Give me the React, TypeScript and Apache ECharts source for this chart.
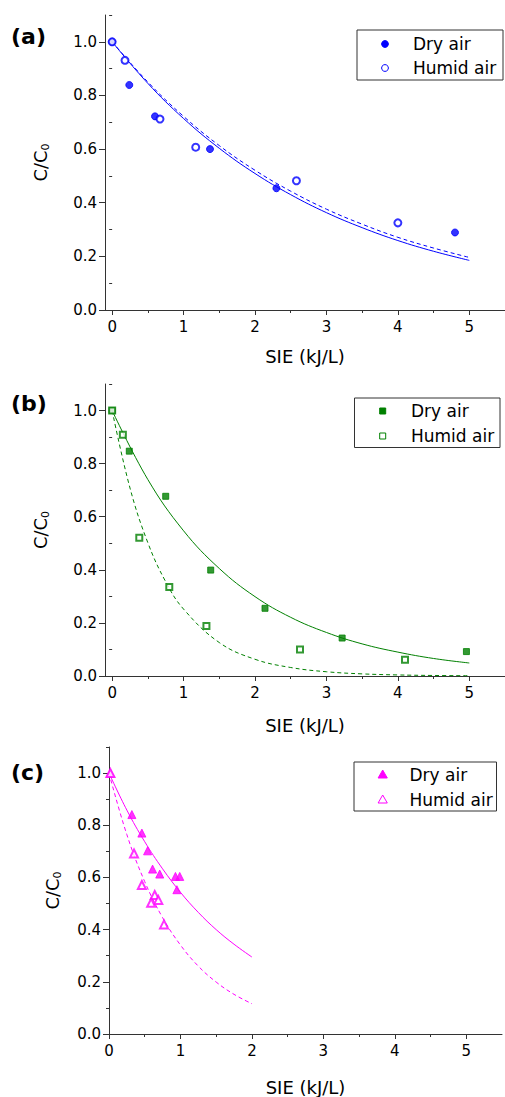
import React, { useEffect, useRef } from "react";
import * as echarts from "echarts";

// ---- tick labels ----
const xTicks = [0, 1, 2, 3, 4, 5];
const xMinorTicks = [0.5, 1.5, 2.5, 3.5, 4.5];
const yTicks = [0, 0.2, 0.4, 0.6, 0.8, 1.0];
const yMinorTicks = [0.1, 0.3, 0.5, 0.7, 0.9, 1.1];
const legendLabels = ["Dry air", "Humid air"];
const panelLabels = ["(a)", "(b)", "(c)"];

// ---- panel (a) ----
const aDryX = [0, 0.24, 0.6, 1.37, 2.3, 4.8];
const aDryY = [1.0, 0.839, 0.722, 0.6, 0.454, 0.289];
const aHumidX = [0, 0.18, 0.67, 1.17, 2.58, 4.0];
const aHumidY = [1.0, 0.931, 0.712, 0.607, 0.482, 0.325];
const aFitX = [0, 0.5, 1, 1.5, 2, 2.5, 3, 3.5, 4, 4.5, 5];
const aDryFit = [1, 0.845, 0.714, 0.603, 0.509, 0.43, 0.363, 0.307, 0.259, 0.219, 0.185];
const aHumidFit = [1, 0.85, 0.722, 0.613, 0.521, 0.443, 0.376, 0.32, 0.271, 0.231, 0.196];

// ---- panel (b) ----
const bDryX = [0, 0.24, 0.75, 1.38, 2.14, 3.22, 4.96];
const bDryY = [1.0, 0.847, 0.677, 0.399, 0.255, 0.143, 0.092];
const bHumidX = [0, 0.15, 0.38, 0.8, 1.32, 2.63, 4.1];
const bHumidY = [1.0, 0.909, 0.521, 0.335, 0.188, 0.1, 0.061];
const bDryFitX = [0, 0.5, 1, 1.5, 2, 2.5, 3, 3.5, 4, 4.5, 5];
const bDryFit = [1, 0.74, 0.547, 0.405, 0.299, 0.221, 0.164, 0.121, 0.09, 0.066, 0.049];
const bHumidFitX = [0, 0.25, 0.5, 0.75, 1, 1.5, 2, 2.5, 3, 3.5, 4, 4.5, 5];
const bHumidFit = [1, 0.708, 0.502, 0.355, 0.252, 0.126, 0.063, 0.032, 0.016, 0.008, 0.004, 0.002, 0.001];

// ---- panel (c) ----
const cDryX = [0.02, 0.32, 0.46, 0.54, 0.61, 0.71, 0.93, 0.99, 0.95];
const cDryY = [1.0, 0.841, 0.77, 0.702, 0.632, 0.613, 0.604, 0.604, 0.553];
const cHumidX = [0.02, 0.35, 0.46, 0.64, 0.69, 0.59, 0.77];
const cHumidY = [1.0, 0.692, 0.571, 0.533, 0.514, 0.503, 0.42];
const cFitX = [0, 0.25, 0.5, 0.75, 1, 1.25, 1.5, 1.75, 2];
const cDryFit = [1, 0.858, 0.737, 0.633, 0.543, 0.466, 0.4, 0.344, 0.295];
const cHumidFit = [1, 0.764, 0.584, 0.446, 0.341, 0.26, 0.199, 0.152, 0.116];

const FONT = "DejaVu Sans";
const AXIS_COLOR = "#333";
const BLUE = "#0000ff";
const GREEN = "#008000";
const MAGENTA = "#ff00ff";

const zip = (xs: number[], ys: number[]) => xs.map((x, i) => [x, ys[i]]);

export default function App() {
  const ref = useRef<HTMLDivElement>(null);

  useEffect(() => {
    if (!ref.current) return;
    const chart = echarts.init(ref.current, null, { renderer: "svg" });

    const grids = [
      { left: 105, top: 15, width: 400, height: 295 },
      { left: 105, top: 384, width: 400, height: 292 },
      { left: 109, top: 747, width: 393, height: 289 },
    ];
    const xMins = [-0.1, -0.1, 0];
    const xNameGaps = [37, 40, 44];
    const yNameGaps = [54, 54, 46];

    const xAxes: any[] = [];
    const yAxes: any[] = [];
    grids.forEach((_, g) => {
      xAxes.push({
        type: "value",
        gridIndex: g,
        position: "bottom",
        min: xMins[g],
        max: 5.5,
        name: "SIE (kJ/L)",
        nameLocation: "middle",
        nameGap: xNameGaps[g],
        nameTextStyle: { fontFamily: FONT, fontSize: 18, color: "#000" },
        axisLine: { show: true, onZero: false, lineStyle: { color: AXIS_COLOR, width: 1 } },
        axisTick: { show: true, customValues: xTicks, length: 5, lineStyle: { color: AXIS_COLOR } },
        axisLabel: {
          customValues: xTicks,
          margin: 9,
          fontFamily: FONT,
          fontSize: 15,
          color: "#000",
          formatter: (v: number) => String(v),
        },
        splitLine: { show: false },
      });
      xAxes.push({
        type: "value",
        gridIndex: g,
        position: "bottom",
        min: xMins[g],
        max: 5.5,
        axisLine: { show: false },
        axisTick: { show: true, customValues: xMinorTicks, length: 3, lineStyle: { color: AXIS_COLOR } },
        axisLabel: { show: false },
        splitLine: { show: false },
      });
      yAxes.push({
        type: "value",
        gridIndex: g,
        position: "left",
        min: 0,
        max: 1.1,
        name: "{m|C/C}{s|0}",
        nameLocation: "middle",
        nameGap: yNameGaps[g],
        nameTextStyle: {
          color: "#000",
          rich: {
            m: { fontFamily: FONT, fontSize: 18, lineHeight: 22, color: "#000" },
            s: { fontFamily: FONT, fontSize: 11, lineHeight: 10, verticalAlign: "bottom", color: "#000" },
          },
        },
        axisLine: { show: true, onZero: false, lineStyle: { color: AXIS_COLOR, width: 1 } },
        axisTick: { show: true, customValues: yTicks, length: 6, lineStyle: { color: AXIS_COLOR } },
        axisLabel: {
          customValues: yTicks,
          margin: 8,
          fontFamily: FONT,
          fontSize: 15,
          color: "#000",
          formatter: (v: number) => v.toFixed(1),
        },
        splitLine: { show: false },
      });
      yAxes.push({
        type: "value",
        gridIndex: g,
        position: "left",
        min: 0,
        max: 1.1,
        axisLine: { show: false },
        axisTick: { show: true, customValues: yMinorTicks, length: 3, lineStyle: { color: AXIS_COLOR } },
        axisLabel: { show: false },
        splitLine: { show: false },
      });
    });

    const scatter = (name: string, data: number[][], symbol: string, size: number, color: string, g: number) => ({
      type: "scatter",
      name,
      xAxisIndex: 2 * g,
      yAxisIndex: 2 * g,
      data,
      symbol,
      symbolSize: size,
      clip: false,
      itemStyle: { color, borderColor: color, borderWidth: 1 },
      z: 4,
    });
    const fit = (data: number[][], color: string, dashed: boolean, g: number) => ({
      type: "line",
      xAxisIndex: 2 * g,
      yAxisIndex: 2 * g,
      data,
      smooth: 0.4,
      showSymbol: false,
      symbol: "none",
      lineStyle: { color, width: 1, type: dashed ? [4, 3] : "solid" },
      z: 2,
      silent: true,
    });

    const series: any[] = [
      fit(zip(aFitX, aDryFit), BLUE, false, 0),
      fit(zip(aFitX, aHumidFit), BLUE, true, 0),
      scatter(legendLabels[0], zip(aDryX, aDryY), "circle", 7, BLUE, 0),
      scatter(legendLabels[1], zip(aHumidX, aHumidY), "emptyCircle", 7, BLUE, 0),
      fit(zip(bDryFitX, bDryFit), GREEN, false, 1),
      fit(zip(bHumidFitX, bHumidFit), GREEN, true, 1),
      scatter(legendLabels[0], zip(bDryX, bDryY), "rect", 6, GREEN, 1),
      scatter(legendLabels[1], zip(bHumidX, bHumidY), "emptyRect", 6, GREEN, 1),
      fit(zip(cFitX, cDryFit), MAGENTA, false, 2),
      fit(zip(cFitX, cHumidFit), MAGENTA, true, 2),
      scatter(legendLabels[0], zip(cDryX, cDryY), "triangle", 8, MAGENTA, 2),
      scatter(legendLabels[1], zip(cHumidX, cHumidY), "emptyTriangle", 8, MAGENTA, 2),
    ];

    // legend boxes drawn as graphic elements
    const legendBoxes = [
      { x: 357, y: 30, w: 146, h: 50, mx: 385, r1: 44, r2: 68, tx: 413, color: BLUE, shape: "circle" },
      { x: 354.5, y: 398, w: 145.5, h: 49.5, mx: 382.7, r1: 411, r2: 436, tx: 411, color: GREEN, shape: "square" },
      { x: 354, y: 762, w: 142.5, h: 49, mx: 382.7, r1: 774.5, r2: 799.5, tx: 409.5, color: MAGENTA, shape: "triangle" },
    ];
    const marker = (shape: string, cx: number, cy: number, color: string, filled: boolean): any => {
      const style = filled
        ? { fill: color, stroke: color, lineWidth: 1 }
        : { fill: "#fff", stroke: color, lineWidth: 1 };
      if (shape === "circle") return { type: "circle", shape: { cx, cy, r: 3.4 }, style };
      if (shape === "square") return { type: "rect", shape: { x: cx - 3, y: cy - 3, width: 6, height: 6 }, style };
      return {
        type: "polygon",
        shape: { points: [[cx, cy - 4.5], [cx - 4.6, cy + 3.5], [cx + 4.6, cy + 3.5]] },
        style,
      };
    };
    const graphic: any[] = [];
    legendBoxes.forEach((b) => {
      graphic.push({
        type: "rect",
        shape: { x: b.x, y: b.y, width: b.w, height: b.h },
        style: { fill: "#fff", stroke: "#333", lineWidth: 1 },
        z: 10,
      });
      graphic.push({ ...marker(b.shape, b.mx, b.r1, b.color, true), z: 11 });
      graphic.push({ ...marker(b.shape, b.mx, b.r2, b.color, false), z: 11 });
      [b.r1, b.r2].forEach((ry, k) => {
        graphic.push({
          type: "text",
          z: 11,
          style: {
            text: legendLabels[k],
            x: b.tx,
            y: ry,
            verticalAlign: "middle",
            fontFamily: FONT,
            fontSize: 17,
            fill: "#000",
          },
        });
      });
    });

    const panelCenters = [36, 403.5, 772];
    panelLabels.forEach((t, i) => {
      graphic.push({
        type: "text",
        style: {
          text: t,
          x: 11,
          y: panelCenters[i],
          verticalAlign: "middle",
          fontFamily: FONT,
          fontWeight: "bold",
          fontSize: 22,
          fill: "#000",
        },
      });
    });

    chart.setOption({
      animation: false,
      backgroundColor: "#fff",
      grid: grids,
      xAxis: xAxes,
      yAxis: yAxes,
      series,
      graphic,
    });

    return () => chart.dispose();
  }, []);

  return <div ref={ref} style={{ position: "absolute", left: 0, top: 0, width: 505, height: 1097 }} />;
}
